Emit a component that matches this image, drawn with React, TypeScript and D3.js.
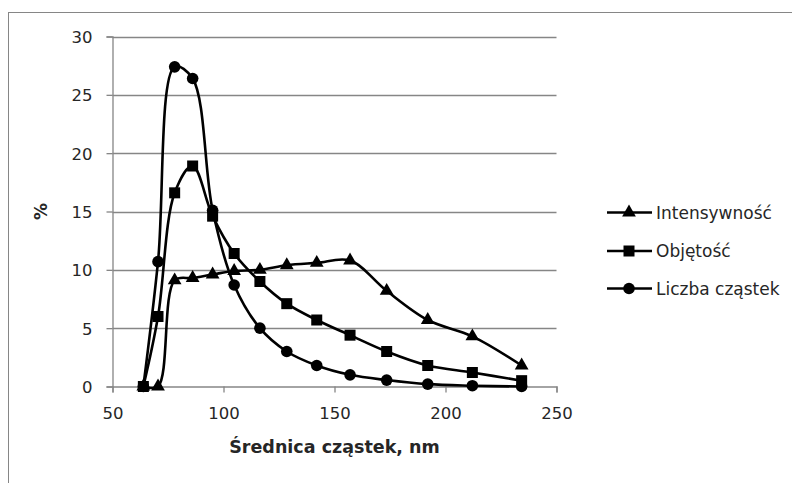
import { useEffect, useRef } from 'react';
import * as d3 from 'd3';

const diameters = [63.9, 70.5, 78.0, 86.1, 95.1, 104.8, 116.4, 128.5, 142.0, 157.0, 173.5, 192.0, 212.1, 234.3];
const intensity = [0, 0, 9.1, 9.3, 9.6, 9.9, 10.0, 10.4, 10.6, 10.8, 8.2, 5.7, 4.3, 1.8];
const volume = [0, 6.0, 16.6, 18.9, 14.6, 11.4, 9.0, 7.1, 5.7, 4.4, 3.0, 1.8, 1.2, 0.5];
const number = [0, 10.7, 27.4, 26.4, 15.1, 8.7, 5.0, 3.0, 1.8, 1.0, 0.55, 0.2, 0.07, 0.0];

const seriesNames = ['Intensywność', 'Objętość', 'Liczba cząstek'];
const seriesShapes = ['triangle', 'square', 'circle'];
const xTicks = [50, 100, 150, 200, 250];
const yTicks = [0, 5, 10, 15, 20, 25, 30];

const FONT = '"DejaVu Sans", sans-serif';

export default function App() {
  const svgRef = useRef<SVGSVGElement>(null);

  useEffect(() => {
    if (!svgRef.current) return;
    const width = 792;
    const height = 483;
    const svg = d3.select(svgRef.current);
    svg.selectAll('*').remove();

    // chart frame (runs off the bottom/right of the screenshot)
    svg.append('rect')
      .attr('x', 8.5).attr('y', 12.5)
      .attr('width', width + 20).attr('height', height + 20)
      .attr('fill', '#fff').attr('stroke', '#868686').attr('stroke-width', 1);

    const x = d3.scaleLinear().domain([50, 250]).range([112.5, 556.5]);
    const y = d3.scaleLinear().domain([0, 30]).range([386.5, 36.5]);

    const g = svg.append('g');

    // gridlines
    g.selectAll('.grid')
      .data(yTicks.filter(t => t > 0))
      .enter().append('line')
      .attr('x1', x(50)).attr('x2', x(250))
      .attr('y1', d => Math.round(y(d)) + 0.5).attr('y2', d => Math.round(y(d)) + 0.5)
      .attr('stroke', '#868686').attr('stroke-width', 1.3);

    // y axis
    const yAxis = g.append('g').attr('transform', `translate(${x(50)},0)`)
      .call(d3.axisLeft(y).tickValues(yTicks).tickSize(6).tickPadding(14));
    // x axis
    const xAxis = g.append('g').attr('transform', `translate(0,${y(0)})`)
      .call(d3.axisBottom(x).tickValues(xTicks).tickSize(6).tickPadding(15));
    [yAxis, xAxis].forEach(a => {
      a.select('.domain').attr('stroke', '#868686').attr('stroke-width', 1.3);
      a.selectAll('.tick line').attr('stroke', '#868686').attr('stroke-width', 1.3);
      a.selectAll('.tick text')
        .attr('fill', '#262626')
        .attr('font-family', FONT)
        .attr('font-size', 16.5);
    });
    yAxis.selectAll('.tick text').attr('dy', '0.36em');

    // axis titles
    svg.append('text')
      .attr('x', (x(50) + x(250)) / 2).attr('y', 453)
      .attr('text-anchor', 'middle')
      .attr('font-family', FONT).attr('font-size', 17.5).attr('font-weight', 'bold')
      .attr('fill', '#262626')
      .text('Średnica cząstek, nm');
    svg.append('text')
      .attr('transform', `translate(47,${y(15)}) rotate(-90)`)
      .attr('text-anchor', 'middle')
      .attr('font-family', FONT).attr('font-size', 17).attr('font-weight', 'bold')
      .attr('fill', '#262626')
      .text('%');

    const drawMarker = (sel: any, shape: string, cx: number, cy: number) => {
      if (shape === 'triangle') {
        sel.append('path')
          .attr('d', d3.symbol(d3.symbolTriangle, 82)())
          .attr('transform', `translate(${cx},${cy})`)
          .attr('fill', '#000');
      } else if (shape === 'square') {
        sel.append('rect')
          .attr('x', cx - 5.5).attr('y', cy - 5.5)
          .attr('width', 11).attr('height', 11)
          .attr('fill', '#000');
      } else {
        sel.append('circle')
          .attr('cx', cx).attr('cy', cy).attr('r', 5.8)
          .attr('fill', '#000');
      }
    };

    const allSeries = [intensity, volume, number];
    const line = d3.line<number>()
      .x((_, i) => x(diameters[i]))
      .y(d => y(d))
      .curve(d3.curveCatmullRom.alpha(0.5));

    allSeries.forEach((vals, si) => {
      const sg = g.append('g');
      sg.append('path')
        .attr('d', line(vals))
        .attr('fill', 'none')
        .attr('stroke', '#000')
        .attr('stroke-width', 2.6)
        .attr('stroke-linejoin', 'round');
      vals.forEach((v, i) => drawMarker(sg, seriesShapes[si], x(diameters[i]), y(v)));
    });

    // legend
    const legendY = [212.5, 251, 288.5];
    seriesNames.forEach((name, i) => {
      const lg = svg.append('g');
      lg.append('line')
        .attr('x1', 607).attr('x2', 652)
        .attr('y1', legendY[i]).attr('y2', legendY[i])
        .attr('stroke', '#000').attr('stroke-width', 2.6);
      drawMarker(lg, seriesShapes[i], 629, legendY[i]);
      lg.append('text')
        .attr('x', 656).attr('y', legendY[i])
        .attr('dy', '0.36em')
        .attr('font-family', FONT).attr('font-size', 17)
        .attr('fill', '#262626')
        .text(name);
    });
  }, []);

  return (
    <svg
      ref={svgRef}
      width={792}
      height={483}
      style={{ position: 'fixed', left: 0, top: 0, background: '#fff' }}
    />
  );
}
